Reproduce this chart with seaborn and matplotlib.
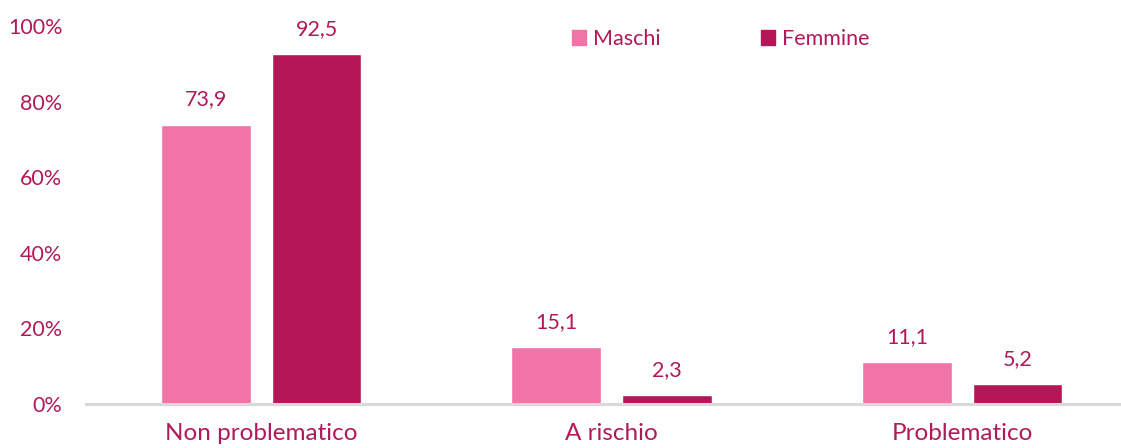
import pandas as pd
import matplotlib
matplotlib.use("Agg")
import matplotlib.pyplot as plt
import seaborn as sns
from matplotlib.ticker import FuncFormatter

# data
categorie = ["Non problematico", "A rischio", "Problematico"]
maschi = [73.9, 15.1, 11.1]
femmine = [92.5, 2.3, 5.2]
gruppi = ["Maschi", "Femmine"]

df = pd.DataFrame({
    "Categoria": categorie * 2,
    "Gruppo": ["Maschi"] * 3 + ["Femmine"] * 3,
    "Valore": maschi + femmine,
})

text_col = "#B01A5A"
palette = {"Maschi": "#F173A8", "Femmine": "#B31757"}

sns.set_style("white")
plt.rcParams["font.family"] = ["Lato", "DejaVu Sans"]

fig = plt.figure(figsize=(11.21, 4.48), dpi=100)
ax = fig.add_axes([0.0767, 0.0982, 0.9233, 0.844])

sns.barplot(data=df, x="Categoria", y="Valore", hue="Gruppo",
            order=categorie, hue_order=gruppi, palette=palette,
            width=0.632, gap=0.19, saturation=1, ax=ax, legend=False)

# value labels over the bars
for cont in ax.containers:
    labels = [f"{b.get_height():.1f}".replace(".", ",") for b in cont]
    ax.bar_label(cont, labels=labels, padding=11, color=text_col, fontsize=15.5)

ax.set_ylim(0, 100)
ax.set_xlim(-0.5, 2.453)
ax.set_yticks([0, 20, 40, 60, 80, 100])
ax.yaxis.set_major_formatter(FuncFormatter(lambda v, p: f"{v:.0f}%"))
ax.tick_params(axis="y", length=0, labelsize=15.5, labelcolor=text_col, pad=17)
# x labels kept just inside the bottom edge
ax.tick_params(axis="x", length=0, labelsize=17.5, labelcolor=text_col, pad=14)
ax.set_xlabel("")
ax.set_ylabel("")

for s in ["top", "right", "left"]:
    ax.spines[s].set_visible(False)
ax.spines["bottom"].set_color("#D9D9D9")
ax.spines["bottom"].set_linewidth(2.2)

# legend at the top
handles = [plt.Rectangle((0, 0), 1, 1, color=palette[g]) for g in gruppi]
leg = fig.legend(handles, gruppi, loc="center", bbox_to_anchor=(0.643, 0.913),
                 ncol=2, frameon=False, fontsize=15.5, handlelength=0.65,
                 handleheight=0.65, handletextpad=0.3, columnspacing=4.7)
for t in leg.get_texts():
    t.set_color(text_col)

fig.savefig("out.png", dpi=100)
